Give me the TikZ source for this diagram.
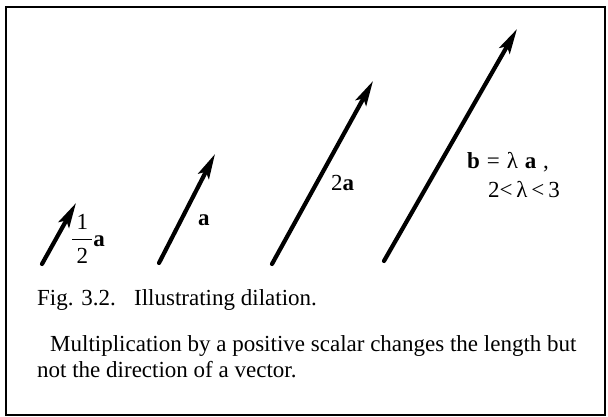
\documentclass[tikz,border=0pt]{standalone}
\usepackage{amsmath}
\usepackage{fontspec}
\setmainfont{Liberation Serif}
\usetikzlibrary{arrows.meta}
\begin{document}
\begin{tikzpicture}[x=1pt,y=-1pt,
  vec/.style={line width=4.2pt,line cap=round,-{Stealth[length=25pt,width=12pt,inset=5pt]}},
  lbl/.style={inner sep=0pt,anchor=base west,font=\fontsize{23}{26}\selectfont},
  txt/.style={inner sep=0pt,anchor=base west,font=\fontsize{23}{26}\selectfont},
  frame/.style={line width=1.6pt}]
\useasboundingbox (0,0) rectangle (608,417);
\draw[frame] (6,7) rectangle (605,415);
% vectors
\coordinate (t1) at (42,264); \coordinate (h1) at (76,203);
\coordinate (t2) at (159,263); \coordinate (h2) at (215,154);
\coordinate (t3) at (272,264); \coordinate (h3) at (373,81);
\coordinate (t4) at (384,261); \coordinate (h4) at (517,29);
\draw[vec] (t1) -- (h1);
\draw[vec] (t2) -- (h2);
\draw[vec] (t3) -- (h3);
\draw[vec] (t4) -- (h4);
% labels
\node[lbl] (l1) at (71,246) {$\dfrac{\,\text{1}\,}{\,\text{2}\,}$\textbf{a}};
\node[lbl] (l2) at (198,225) {\textbf{a}};
\node[lbl] (l3) at (331,190) {2\textbf{a}};
\node[lbl] (l4) at (467,169) {\textbf{b}\hspace{0.3em}=\hspace{0.3em}λ\hspace{0.3em}\textbf{a}\hspace{0.3em},};
\node[lbl] (l5) at (488,197) {2<\,λ\,<\,3};
% caption
\node[txt] (cap) at (37,305) {Fig. 3.2.\hspace{0.8em}Illustrating dilation.};
\node[txt] (p1) at (50,351) {Multiplication by a positive scalar changes the length but};
\node[txt] (p2) at (37,377) {not the direction of a vector.};
\end{tikzpicture}
\end{document}
